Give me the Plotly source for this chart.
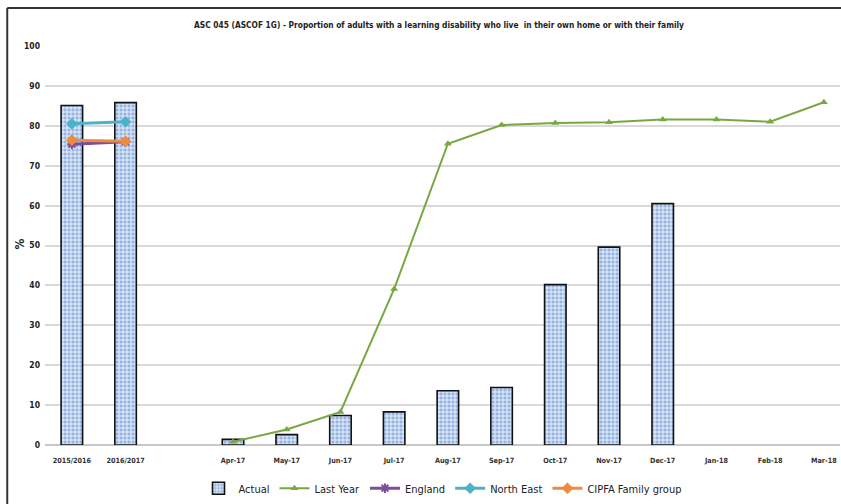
import plotly.graph_objects as go

# Categories: two annual outturns, a spacer, then the monthly series
categories = ["2015/2016", "2016/2017", " ", "Apr-17", "May-17", "Jun-17", "Jul-17",
              "Aug-17", "Sep-17", "Oct-17", "Nov-17", "Dec-17", "Jan-18", "Feb-18", "Mar-18"]

actual = [85.1, 85.8, None, 1.4, 2.6, 7.4, 8.3, 13.6, 14.4, 40.2, 49.6, 60.5, None, None, None]
last_year = [None, None, None, 0.8, 3.9, 8.3, 39.1, 75.5, 80.2, 80.7, 80.9, 81.6, 81.6, 81.0, 85.9]

annual_cats = ["2015/2016", "2016/2017"]
england = [75.4, 76.0]
north_east = [80.5, 81.0]
cipfa = [76.4, 76.1]

y_ticks = [0, 10, 20, 30, 40, 50, 60, 70, 80, 90, 100]

NARROW = "Liberation Sans Narrow, Arial Narrow, DejaVu Sans Condensed, Liberation Sans, sans-serif"

fig = go.Figure()

fig.add_trace(go.Bar(
    x=categories, y=actual, name="Actual",
    width=0.4,
    marker=dict(
        color="#a3c0e8",
        line=dict(color="#111111", width=1.6),
        pattern=dict(shape="+", fillmode="replace", bgcolor="#93b4e4",
                     fgcolor="#ffffff", size=4, solidity=0.35),
    ),
))

fig.add_trace(go.Scatter(
    x=categories, y=last_year, name="Last Year", mode="lines+markers",
    line=dict(color="#78a842", width=2),
    marker=dict(symbol="triangle-up", size=7, color="#78a842"),
    connectgaps=False,
))

fig.add_trace(go.Scatter(
    x=annual_cats, y=england, name="England", mode="lines+markers",
    line=dict(color="#7b4e9c", width=3),
    marker=dict(symbol="asterisk-open", size=8, color="#7b4e9c", line=dict(width=2, color="#7b4e9c")),
))

fig.add_trace(go.Scatter(
    x=annual_cats, y=north_east, name="North East", mode="lines+markers",
    line=dict(color="#4bb3c8", width=3),
    marker=dict(symbol="diamond", size=9, color="#4bb3c8"),
))

fig.add_trace(go.Scatter(
    x=annual_cats, y=cipfa, name="CIPFA Family group", mode="lines+markers",
    line=dict(color="#f08a3c", width=3),
    marker=dict(symbol="diamond", size=9, color="#f08a3c"),
))

fig.update_layout(
    width=841, height=504,
    margin=dict(l=45, r=1, t=46, b=55),
    paper_bgcolor="white", plot_bgcolor="white",
    showlegend=True,
    barmode="overlay",
    title=dict(
        text="ASC 045 (ASCOF 1G) - Proportion of adults with a learning disability who live  in their own home or with their family",
        x=0.522, xanchor="center", y=0.95, yanchor="middle",
        font=dict(family=NARROW, size=8.3, color="#222222", weight="bold"),
    ),
    legend=dict(
        orientation="h", x=0.5, xanchor="center", y=-0.072, yanchor="top",
        font=dict(family=NARROW, size=11, color="#222222"),
        itemwidth=30, tracegroupgap=0, bgcolor="rgba(0,0,0,0)",
    ),
    annotations=[
        dict(text="%", xref="paper", yref="paper", x=-0.0315, y=0.505,
             xanchor="center", yanchor="middle", showarrow=False, textangle=-90,
             font=dict(family=NARROW, size=12, color="#222222", weight="bold")),
    ],
    shapes=[
        dict(type="line", xref="paper", yref="paper", x0=-0.0475, x1=1.01, y0=1.095, y1=1.095,
             line=dict(color="#333333", width=2)),
        dict(type="line", xref="paper", yref="paper", x0=-0.0475, x1=-0.0475, y0=1.095, y1=-0.2,
             line=dict(color="#333333", width=2)),
    ],
)

fig.update_xaxes(
    type="category", categoryorder="array", categoryarray=categories,
    range=[-0.5, 14.3],
    showgrid=False, showline=False, ticks="",
    ticklabelstandoff=10,
    tickfont=dict(family=NARROW, size=7.2, color="#333333", weight="bold"),
)

fig.update_yaxes(
    range=[0, 100], tickvals=y_ticks,
    showgrid=True, gridcolor="#d9d9d9", gridwidth=1.5,
    zeroline=True, zerolinecolor="#c8c8c8", zerolinewidth=1.5,
    showline=False, ticks="",
    tickfont=dict(family=NARROW, size=8.5, color="#222222", weight="bold"),
    ticklabelstandoff=4,
)

fig.write_html("out.html")
